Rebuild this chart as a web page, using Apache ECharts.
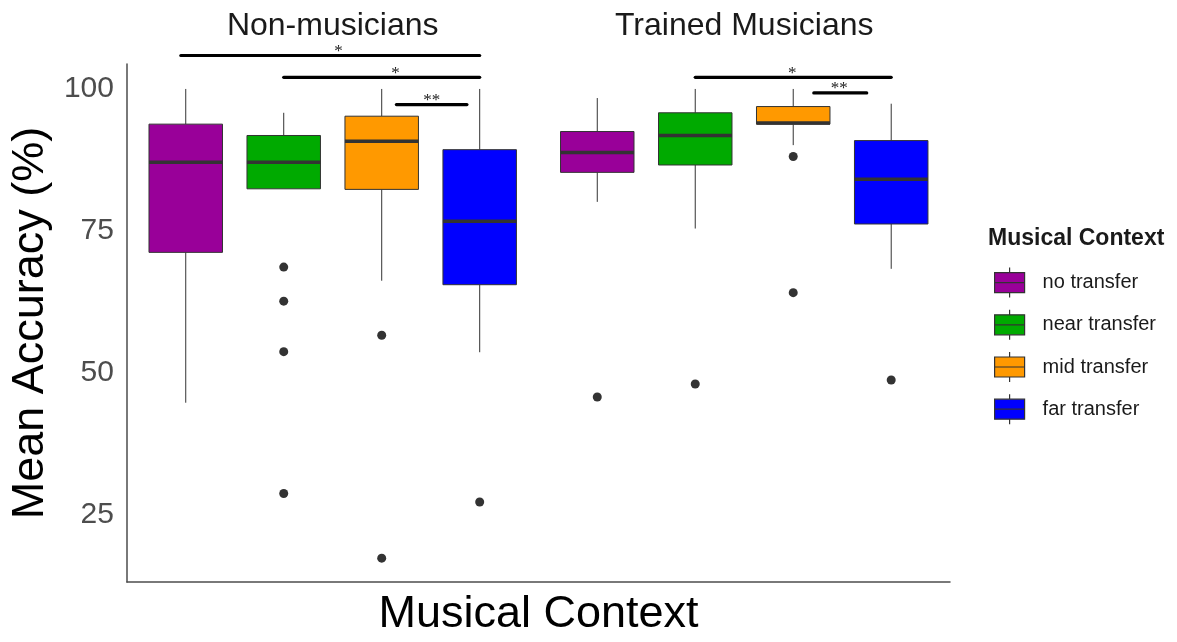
<!DOCTYPE html>
<html>
<head>
<meta charset="utf-8">
<script src="https://cdn.jsdelivr.net/npm/echarts@6.0.0/dist/echarts.min.js"></script>
<style>
  html, body { margin: 0; padding: 0; background: #fff; }
  #chart { width: 1177px; height: 642px; }
</style>
</head>
<body>
<div id="chart"></div>
<script>
const contexts = ['no transfer', 'near transfer', 'mid transfer', 'far transfer']
const groups = ['Non-musicians', 'Trained Musicians']
const contextColors = ['#990099', '#00aa00', '#ff9900', '#0000ff']

// [lower whisker, Q1, median, Q3, upper whisker], one row per group
const noTransfer = [[44.7, 71.2, 87.1, 93.8, 100.0], [80.1, 85.3, 88.8, 92.5, 98.4]]
const nearTransfer = [[82.4, 82.4, 87.1, 91.8, 95.8], [75.4, 86.6, 91.8, 95.8, 100.0]]
const midTransfer = [[66.2, 82.3, 90.8, 95.2, 100.0], [90.1, 93.8, 94.0, 96.9, 100.0]]
const farTransfer = [[53.6, 65.5, 76.7, 89.3, 100.0], [68.3, 76.2, 84.1, 90.9, 97.4]]

// outliers per context
const outliersNon = [[], [68.6, 62.6, 53.7, 28.7], [56.6, 17.3], [27.2]]
const outliersTrained = [[45.7], [48.0], [88.1, 64.1], [48.7]]

// significance brackets (x in category units across both panels)
const bracketStart = [0.95, 2.0, 3.15, 6.2, 7.41]
const bracketEnd = [4.0, 4.0, 3.87, 8.2, 7.95]
const bracketY = [105.9, 102.06, 97.24, 102.06, 99.3]
const bracketLabelX = [2.56, 3.14, 3.51, 7.19, 7.67]
const bracketLabels = ['*', '*', '**', '*', '**']

const yTicks = [25, 50, 75, 100]

const summaries = [noTransfer, nearTransfer, midTransfer, farTransfer]
const panelShift = [0, 4.2] // second facet starts after 4 categories + padding
const boxWidth = 0.75
const FONT = '"Liberation Sans", Arial, sans-serif'

function xPos(group, ctx) {
  return ctx + 1 + panelShift[group]
}

function renderBox(params, api) {
  const x = api.value(0)
  const lo = api.coord([x, api.value(1)])
  const q1 = api.coord([x, api.value(2)])
  const md = api.coord([x, api.value(3)])
  const q3 = api.coord([x, api.value(4)])
  const hi = api.coord([x, api.value(5)])
  const w = api.size([boxWidth, 0])[0]
  const line = { stroke: '#333', lineWidth: 1 }
  return {
    type: 'group',
    children: [
      { type: 'line', shape: { x1: lo[0], y1: lo[1], x2: q1[0], y2: q1[1] }, style: line },
      { type: 'line', shape: { x1: q3[0], y1: q3[1], x2: hi[0], y2: hi[1] }, style: line },
      {
        type: 'rect',
        shape: { x: q3[0] - w / 2, y: q3[1], width: w, height: q1[1] - q3[1] },
        style: { fill: api.visual('color'), stroke: '#333', lineWidth: 1 },
      },
      {
        type: 'line',
        shape: { x1: md[0] - w / 2, y1: md[1], x2: md[0] + w / 2, y2: md[1] },
        style: { stroke: '#333', lineWidth: 3.5 },
      },
    ],
  }
}

function renderBracket(params, api) {
  const a = api.coord([api.value(0), api.value(2)])
  const b = api.coord([api.value(1), api.value(2)])
  const t = api.coord([bracketLabelX[params.dataIndex], api.value(2)])
  return {
    type: 'group',
    children: [
      {
        type: 'line',
        shape: { x1: a[0], y1: a[1], x2: b[0], y2: b[1] },
        style: { stroke: '#000', lineWidth: 3.2, lineCap: 'round' },
      },
      {
        type: 'text',
        x: t[0],
        y: t[1] - 4,
        style: {
          text: bracketLabels[params.dataIndex],
          fill: '#222',
          font: '17px "Liberation Serif", serif',
          align: 'center',
          verticalAlign: 'middle',
        },
      },
    ],
  }
}

const boxSeries = contexts.map((name, c) => ({
  name: name,
  type: 'custom',
  xAxisIndex: 0,
  yAxisIndex: 0,
  itemStyle: { color: contextColors[c] },
  encode: { x: 0, y: [1, 2, 3, 4, 5] },
  data: summaries[c].map((s, g) => [xPos(g, c)].concat(s)),
  renderItem: renderBox,
}))

const outlierData = []
contexts.forEach((name, c) => {
  outliersNon[c].forEach(v => outlierData.push([xPos(0, c), v]))
  outliersTrained[c].forEach(v => outlierData.push([xPos(1, c), v]))
})

const boxIcon = 'path://M15,0L15,5M0,5L30,5L30,25L0,25ZM0,15L30,15M15,25L15,30'

const chart = echarts.init(document.getElementById('chart'))
chart.setOption({
  animation: false,
  backgroundColor: '#fff',
  textStyle: { fontFamily: FONT },
  title: {
    text: 'Musical Context',
    left: 988,
    top: 227,
    padding: 0,
    textStyle: { fontSize: 23, fontWeight: 'bold', color: '#1a1a1a', fontFamily: FONT },
  },
  legend: {
    orient: 'vertical',
    left: 994,
    top: 267,
    padding: 0,
    itemWidth: 30,
    itemHeight: 30,
    itemGap: 11,
    selectedMode: false,
    textStyle: { fontSize: 20, color: '#1a1a1a', fontFamily: FONT, padding: [0, 0, 0, 13] },
    data: contexts.map((name, c) => ({
      name: name,
      icon: boxIcon,
      itemStyle: { color: contextColors[c], borderColor: '#333', borderWidth: 1.2 },
    })),
  },
  grid: { left: 126, right: 227, top: 64, bottom: 59 },
  xAxis: [
    {
      type: 'value',
      min: 0.4,
      max: 8.8,
      name: 'Musical Context',
      nameLocation: 'middle',
      nameGap: 10,
      nameTextStyle: { fontSize: 45, color: '#000', fontFamily: FONT },
      axisLine: { show: true, lineStyle: { color: '#4d4d4d', width: 1.5 } },
      axisTick: { show: false },
      axisLabel: { show: false },
      splitLine: { show: false },
    },
    {
      type: 'category',
      position: 'top',
      data: groups,
      axisLine: { show: false },
      axisTick: { show: false },
      axisLabel: { fontSize: 32, color: '#1a1a1a', margin: 22, fontFamily: FONT },
      splitLine: { show: false },
    },
  ],
  yAxis: {
    type: 'value',
    min: 13.1,
    max: 104.4,
    name: 'Mean Accuracy (%)',
    nameLocation: 'middle',
    nameGap: 63,
    nameTextStyle: { fontSize: 45, color: '#000', fontFamily: FONT },
    axisLine: { show: true, lineStyle: { color: '#4d4d4d', width: 1.5 } },
    axisTick: { show: false },
    axisLabel: { customValues: yTicks, fontSize: 30, color: '#4d4d4d', margin: 13, fontFamily: FONT },
    splitLine: { show: false },
  },
  series: boxSeries.concat([
    {
      name: 'outliers',
      type: 'scatter',
      xAxisIndex: 0,
      yAxisIndex: 0,
      symbolSize: 9,
      itemStyle: { color: '#333', opacity: 1 },
      data: outlierData,
      z: 3,
    },
    {
      name: 'significance',
      type: 'custom',
      xAxisIndex: 0,
      yAxisIndex: 0,
      clip: false,
      encode: { x: [0, 1], y: 2 },
      data: bracketStart.map((s, i) => [s, bracketEnd[i], bracketY[i]]),
      renderItem: renderBracket,
      z: 4,
    },
  ]),
})
</script>
</body>
</html>
